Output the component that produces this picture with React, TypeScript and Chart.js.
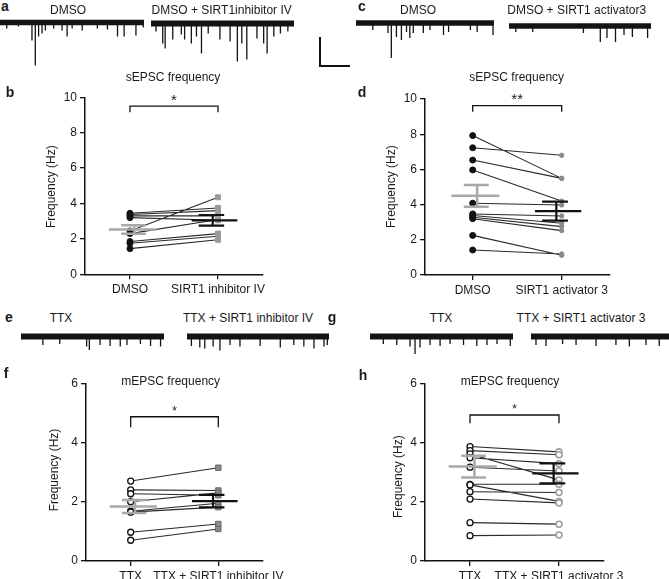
import React, { useEffect, useRef } from "react";
import { Chart, registerables } from "chart.js";

Chart.register(...registerables);

const FONT = "'Liberation Sans', Arial, Helvetica, sans-serif";

// ---------- Panel b : sEPSC, DMSO vs SIRT1 inhibitor IV ----------
const bCategories = ["DMSO", "SIRT1 inhibitor IV"];
const bDmso = [2.45, 3.45, 3.38, 3.3, 3.2, 2.3, 1.85, 1.75, 1.45];
const bInhibitor = [4.35, 3.75, 3.6, 3.3, 3.05, 3.1, 2.3, 2.15, 1.95];
const bMean = [2.53, 3.05];
const bSem = [0.24, 0.3];
const bYTicks = [0, 2, 4, 6, 8, 10];
const bBracket = [9.15, 9.5];
const bSig = "*";

// ---------- Panel d : sEPSC, DMSO vs SIRT1 activator 3 ----------
const dCategories = ["DMSO", "SIRT1 activator 3"];
const dDmso = [7.92, 7.23, 6.53, 5.97, 4.08, 3.47, 3.38, 3.28, 3.2, 2.25, 1.42];
const dActivator = [5.49, 6.8, 5.49, 4.2, 3.98, 3.35, 2.94, 2.75, 2.52, 1.12, 1.19];
const dMean = [4.5, 3.63];
const dSem = [0.62, 0.54];
const dYTicks = [0, 2, 4, 6, 8, 10];
const dBracket = [9.28, 9.62];
const dSig = "**";

// ---------- Panel f : mEPSC, TTX vs TTX + SIRT1 inhibitor IV ----------
const fCategories = ["TTX", "TTX + SIRT1 inhibitor IV"];
const fTtx = [2.7, 2.4, 2.27, 2.0, 1.68, 1.65, 0.97, 0.7];
const fInhibitor = [3.15, 2.38, 2.22, 2.3, 1.95, 1.82, 1.25, 1.08];
const fMean = [1.84, 2.02];
const fSem = [0.22, 0.21];
const fYTicks = [0, 2, 4, 6];
const fBracket = [4.52, 4.87];
const fSig = "*";

// ---------- Panel h : mEPSC, TTX vs TTX + SIRT1 activator 3 ----------
const hCategories = ["TTX", "TTX + SIRT1 activator 3"];
const hTtx = [3.88, 3.74, 3.63, 3.5, 3.18, 2.6, 2.58, 2.35, 2.1, 1.3, 0.86];
const hActivator = [3.7, 3.6, 2.75, 3.3, 3.05, 2.6, 2.02, 2.32, 1.97, 1.25, 0.88];
const hMean = [3.2, 2.97];
const hSem = [0.37, 0.34];
const hYTicks = [0, 2, 4, 6];
const hBracket = [4.67, 4.95];
const hSig = "*";

// ---------- Example traces: event times (s) and amplitudes (pA) ----------
const aDmsoT = [0.47, 1.28, 2.22, 2.45, 2.68, 2.92, 3.15, 3.73, 4.31, 4.66, 5.01, 5.71, 6.76, 7.46, 8.16, 8.62, 9.44, 9.95];
const aDmsoA = [-6, -4, -18, -43, -14, -11, -8, -6, -8, -14, -6, -8, -6, -7, -14, -14, -13, -5];
const aInhT = [0.35, 0.82, 0.99, 1.52, 2.12, 2.35, 2.82, 3.18, 3.53, 4.0, 4.82, 5.53, 6.04, 6.35, 6.7, 7.41, 7.88, 8.12, 8.59, 9.05, 9.57];
const aInhA = [-8, -20, -25, -16, -11, -16, -20, -13, -30, -10, -16, -18, -38, -20, -36, -15, -20, -30, -13, -10, -8];
const cDmsoT = [1.22, 2.32, 2.56, 2.93, 3.29, 3.66, 3.9, 4.15, 4.88, 5.36, 6.34, 6.71, 8.29, 8.78, 9.93];
const cDmsoA = [-7, -10, -35, -14, -17, -9, -15, -10, -10, -7, -12, -9, -7, -9, -12];
const cActT = [0.48, 1.67, 5.24, 6.43, 6.9, 7.5, 8.1, 8.69, 9.76];
const cActA = [-6, -6, -7, -16, -12, -16, -9, -11, -12];
const eTtxT = [1.53, 2.71, 4.59, 4.78, 5.53, 6.23, 6.94, 7.41, 8.35, 9.06, 9.76];
const eTtxA = [-8.5, -7.5, -10, -13.5, -8.5, -9.5, -10, -8.5, -7.5, -9.5, -10];
const eInhT = [0.31, 0.9, 1.25, 1.84, 2.32, 3.03, 3.73, 5.15, 6.57, 7.52, 8.23, 8.94, 9.65, 9.88];
const eInhA = [-9.5, -11, -12, -10, -14, -8.5, -10, -9.5, -11, -8.5, -10, -12, -10, -8.5];
const gTtxT = [0.93, 1.87, 2.8, 3.15, 3.5, 4.2, 4.9, 5.6, 6.54, 7.47, 8.18, 8.88, 9.81];
const gTtxA = [-7.5, -8.5, -10, -17.5, -11, -8.5, -9.5, -7.5, -8.5, -9.5, -8.5, -7.5, -9.5];
const gActT = [0.35, 1.05, 2.21, 3.15, 4.55, 5.94, 6.88, 8.04, 8.97];
const gActA = [-8.5, -9.5, -7.5, -8.5, -9.5, -8.5, -10, -8.5, -9.5];

type Pt = { x: number; y: number | null };

function pairLines(a: number[], b: number[]): Pt[] {
  const out: Pt[] = [];
  a.forEach((v, i) => {
    out.push({ x: 0, y: v }, { x: 1, y: b[i] }, { x: 1, y: null });
  });
  return out;
}

type BarStyle = { mean: [number, number]; cap: [number, number]; v: number };

function errorBar(c: number, m: number, s: number, st: BarStyle): Pt[] {
  const top = m + s;
  const bot = m - s;
  return [
    { x: c + st.mean[0], y: m }, { x: c + st.mean[1], y: m }, { x: c, y: null },
    { x: c + st.v, y: bot }, { x: c + st.v, y: top }, { x: c, y: null },
    { x: c + st.cap[0], y: top }, { x: c + st.cap[1], y: top }, { x: c, y: null },
    { x: c + st.cap[0], y: bot }, { x: c + st.cap[1], y: bot },
  ];
}

function bracketPts(level: number[]): Pt[] {
  return [
    { x: 0, y: level[0] }, { x: 0, y: level[1] },
    { x: 1, y: level[1] }, { x: 1, y: level[0] },
  ];
}

const textPlugin = {
  id: "panelText",
  afterDatasetsDraw(chart: any, _args: any, opts: any) {
    const ctx = chart.ctx as CanvasRenderingContext2D;
    (opts.items || []).forEach((t: any) => {
      ctx.save();
      ctx.font = `${t.size}px ${FONT}`;
      ctx.fillStyle = "#1a1a1a";
      ctx.textAlign = "center";
      ctx.textBaseline = "middle";
      ctx.translate(t.x, t.y);
      if (t.rot) ctx.rotate(t.rot);
      ctx.fillText(t.text, 0, 0);
      ctx.restore();
    });
    if (opts.star) {
      const xs = chart.scales.x;
      const ys = chart.scales.y;
      const cx = (xs.getPixelForValue(0) + xs.getPixelForValue(1)) / 2;
      const by = ys.getPixelForValue(opts.star.level);
      ctx.save();
      ctx.font = `${opts.star.size}px ${FONT}`;
      ctx.fillStyle = "#1a1a1a";
      ctx.textAlign = "center";
      ctx.textBaseline = "alphabetic";
      ctx.fillText(opts.star.text, cx, by - 1.5);
      ctx.restore();
    }
  },
};

type PointStyle = {
  style: string;
  radius: number;
  bg: string;
  border: string;
  bw: number;
};

type PanelDef = {
  box: { left: number; top: number; width: number; height: number };
  area: { left: number; right: number; top: number; bottom: number };
  xRange: [number, number];
  yMax: number;
  categories: string[];
  a: number[];
  b: number[];
  mean: number[];
  sem: number[];
  yTicks: number[];
  bracket: number[];
  sig: string;
  starSize: number;
  title: string;
  titlePos: [number, number];
  yTitlePos: [number, number];
  leftPt: PointStyle;
  rightPt: PointStyle;
  leftBar: BarStyle;
  rightBar: BarStyle;
};

function PairedPanel({ p }: { p: PanelDef }) {
  const ref = useRef<HTMLCanvasElement>(null);
  useEffect(() => {
    const { box, area } = p;
    const padTop = area.top - box.top;
    const padRight = box.left + box.width - area.right;
    const yW = area.left - box.left;
    const xH = box.top + box.height - area.bottom;
    const ptDs = (vals: number[], x: number, st: PointStyle, order: number) => ({
      data: vals.map((v) => ({ x, y: v })),
      pointStyle: st.style,
      pointRadius: st.radius,
      pointBackgroundColor: st.bg,
      pointBorderColor: st.border,
      pointBorderWidth: st.bw,
      showLine: false,
      order,
    });
    const lineDs = (data: Pt[], color: string, width: number, order: number) => ({
      data,
      showLine: true,
      spanGaps: false,
      borderColor: color,
      borderWidth: width,
      pointRadius: 0,
      order,
    });
    const tickFont = { family: FONT, size: 12 };
    const chart = new Chart(ref.current!, {
      type: "scatter",
      data: {
        datasets: [
          lineDs(bracketPts(p.bracket), "#111", 1.3, 6),
          lineDs(pairLines(p.a, p.b), "#2a2a2a", 1.1, 5),
          ptDs(p.b, 1, p.rightPt, 4),
          ptDs(p.a, 0, p.leftPt, 3),
          lineDs(errorBar(0, p.mean[0], p.sem[0], p.leftBar), "#a9a9a9", 2.5, 2),
          lineDs(errorBar(1, p.mean[1], p.sem[1], p.rightBar), "#111", 2.2, 1),
        ] as any,
      },
      options: {
        animation: false,
        responsive: false,
        maintainAspectRatio: false,
        layout: { padding: { left: 0, right: padRight, top: padTop, bottom: 0 } },
        plugins: {
          legend: { display: false },
          tooltip: { enabled: false },
          panelText: {
            items: [
              { text: p.title, x: p.titlePos[0] - box.left, y: p.titlePos[1] - box.top, size: 12 },
              {
                text: "Frequency (Hz)",
                x: p.yTitlePos[0] - box.left,
                y: p.yTitlePos[1] - box.top,
                size: 12,
                rot: -Math.PI / 2,
              },
            ],
            star: { text: p.sig, level: p.bracket[1], size: p.starSize },
          },
        } as any,
        scales: {
          x: {
            type: "linear",
            min: p.xRange[0],
            max: p.xRange[1],
            afterBuildTicks: (s: any) => {
              s.ticks = [{ value: 0 }, { value: 1 }];
            },
            afterFit: (s: any) => {
              s.height = xH;
            },
            ticks: {
              callback: (v: any) => p.categories[v],
              font: tickFont,
              color: "#1a1a1a",
              padding: 3,
              maxRotation: 0,
              autoSkip: false,
            },
            grid: {
              display: true,
              drawOnChartArea: false,
              drawTicks: true,
              tickLength: 5,
              color: "#111",
              lineWidth: 1.3,
            },
            border: { display: true, color: "#111", width: 1.5 },
          },
          y: {
            type: "linear",
            min: 0,
            max: p.yMax,
            afterBuildTicks: (s: any) => {
              s.ticks = p.yTicks.map((v) => ({ value: v }));
            },
            afterFit: (s: any) => {
              s.width = yW;
            },
            ticks: { font: tickFont, color: "#1a1a1a", padding: 3, autoSkip: false },
            grid: {
              display: true,
              drawOnChartArea: false,
              drawTicks: true,
              tickLength: 5,
              color: "#111",
              lineWidth: 1.3,
            },
            border: { display: true, color: "#111", width: 1.5 },
          },
        },
      } as any,
      plugins: [textPlugin as any],
    });
    return () => chart.destroy();
  }, []);
  const { box } = p;
  return (
    <canvas
      ref={ref}
      width={box.width}
      height={box.height}
      style={{ position: "absolute", left: box.left, top: box.top, width: box.width, height: box.height }}
    />
  );
}

type TraceDef = {
  box: { left: number; top: number; width: number; height: number };
  t: number[];
  amp: number[];
  baseY: number; // px from canvas top where amplitude 0 sits
  band: number;
};

function Trace({ d }: { d: TraceDef }) {
  const ref = useRef<HTMLCanvasElement>(null);
  useEffect(() => {
    const spikes: Pt[] = [];
    d.t.forEach((t, i) => {
      spikes.push({ x: t, y: 0 }, { x: t, y: d.amp[i] }, { x: t, y: null });
    });
    const chart = new Chart(ref.current!, {
      type: "scatter",
      data: {
        datasets: [
          {
            data: [{ x: 0, y: 0 }, { x: 10, y: 0 }],
            showLine: true,
            borderColor: "#141414",
            borderWidth: d.band,
            pointRadius: 0,
          },
          {
            data: spikes,
            showLine: true,
            spanGaps: false,
            borderColor: "#141414",
            borderWidth: 1.3,
            pointRadius: 0,
          },
        ] as any,
      },
      options: {
        animation: false,
        responsive: false,
        maintainAspectRatio: false,
        layout: { padding: 0 },
        plugins: { legend: { display: false }, tooltip: { enabled: false } },
        scales: {
          x: { type: "linear", min: 0, max: 10, display: false },
          y: { type: "linear", min: d.baseY - d.box.height, max: d.baseY, display: false },
        },
      } as any,
    });
    return () => chart.destroy();
  }, []);
  const { box } = d;
  return (
    <canvas
      ref={ref}
      width={box.width}
      height={box.height}
      style={{ position: "absolute", left: box.left, top: box.top, width: box.width, height: box.height }}
    />
  );
}

function Txt({ x, y, text, size = 12, bold = false }: { x: number; y: number; text: string; size?: number; bold?: boolean }) {
  return (
    <div
      style={{
        position: "absolute",
        left: x,
        top: y,
        transform: "translate(-50%, -50%)",
        whiteSpace: "nowrap",
        fontFamily: FONT,
        fontSize: size,
        fontWeight: bold ? 700 : 400,
        color: "#1a1a1a",
        lineHeight: 1,
      }}
    >
      {text}
    </div>
  );
}

const grayBarL: BarStyle = { mean: [-0.24, 0.3], cap: [-0.1, 0.18], v: 0.05 };
const blackBarR: BarStyle = { mean: [-0.3, 0.22], cap: [-0.22, 0.07], v: -0.06 };

const filledBlack: PointStyle = { style: "circle", radius: 3, bg: "#111", border: "#111", bw: 1 };
const openBlack: PointStyle = { style: "circle", radius: 3, bg: "#fff", border: "#111", bw: 1.3 };

const panels: PanelDef[] = [
  {
    box: { left: 0, top: 62, width: 335, height: 240 },
    area: { left: 85, right: 263, top: 97.3, bottom: 274.3 },
    xRange: [-0.511, 1.511],
    yMax: 10,
    categories: bCategories,
    a: bDmso,
    b: bInhibitor,
    mean: bMean,
    sem: bSem,
    yTicks: bYTicks,
    bracket: bBracket,
    sig: bSig,
    starSize: 15,
    title: "sEPSC frequency",
    titlePos: [173, 78],
    yTitlePos: [51.7, 186.7],
    leftPt: filledBlack,
    rightPt: { style: "rect", radius: 3.5, bg: "#9a9a9a", border: "#9a9a9a", bw: 1 },
    leftBar: grayBarL,
    rightBar: blackBarR,
  },
  {
    box: { left: 335, top: 62, width: 334, height: 240 },
    area: { left: 425, right: 610, top: 99, bottom: 275 },
    xRange: [-0.536, 1.543],
    yMax: 10,
    categories: dCategories,
    a: dDmso,
    b: dActivator,
    mean: dMean,
    sem: dSem,
    yTicks: dYTicks,
    bracket: dBracket,
    sig: dSig,
    starSize: 15,
    title: "sEPSC frequency",
    titlePos: [516.7, 78],
    yTitlePos: [391.7, 186.7],
    leftPt: filledBlack,
    rightPt: { style: "circle", radius: 2.2, bg: "#8a8a8a", border: "#8a8a8a", bw: 1 },
    leftBar: grayBarL,
    rightBar: blackBarR,
  },
  {
    box: { left: 0, top: 355, width: 335, height: 224 },
    area: { left: 86, right: 263, top: 383.3, bottom: 561 },
    xRange: [-0.51, 1.51],
    yMax: 6,
    categories: fCategories,
    a: fTtx,
    b: fInhibitor,
    mean: fMean,
    sem: fSem,
    yTicks: fYTicks,
    bracket: fBracket,
    sig: fSig,
    starSize: 12,
    title: "mEPSC frequency",
    titlePos: [170.7, 381.7],
    yTitlePos: [55, 470],
    leftPt: openBlack,
    rightPt: { style: "rect", radius: 3.8, bg: "#8c8c8c", border: "#666", bw: 1 },
    leftBar: grayBarL,
    rightBar: blackBarR,
  },
  {
    box: { left: 335, top: 355, width: 334, height: 224 },
    area: { left: 425, right: 604, top: 384, bottom: 561 },
    xRange: [-0.506, 1.506],
    yMax: 6,
    categories: hCategories,
    a: hTtx,
    b: hActivator,
    mean: hMean,
    sem: hSem,
    yTicks: hYTicks,
    bracket: hBracket,
    sig: hSig,
    starSize: 12,
    title: "mEPSC frequency",
    titlePos: [510, 381.7],
    yTitlePos: [398.3, 476.7],
    leftPt: openBlack,
    rightPt: { style: "circle", radius: 3, bg: "#fff", border: "#9a9a9a", bw: 1.5 },
    leftBar: grayBarL,
    rightBar: blackBarR,
  },
];

const traces: TraceDef[] = [
  { box: { left: 0, top: 14, width: 144, height: 54 }, t: aDmsoT, amp: aDmsoA, baseY: 8.5, band: 5.5 },
  { box: { left: 151, top: 14, width: 143, height: 54 }, t: aInhT, amp: aInhA, baseY: 9.5, band: 6 },
  { box: { left: 356, top: 14, width: 138, height: 50 }, t: cDmsoT, amp: cDmsoA, baseY: 9, band: 5.5 },
  { box: { left: 509, top: 14, width: 142, height: 50 }, t: cActT, amp: cActA, baseY: 12, band: 5.5 },
  { box: { left: 21, top: 326, width: 143, height: 28 }, t: eTtxT, amp: eTtxA, baseY: 10.5, band: 6 },
  { box: { left: 187, top: 326, width: 142, height: 28 }, t: eInhT, amp: eInhA, baseY: 10.5, band: 6 },
  { box: { left: 370, top: 326, width: 143, height: 30 }, t: gTtxT, amp: gTtxA, baseY: 10.5, band: 6 },
  { box: { left: 531, top: 326, width: 143, height: 28 }, t: gActT, amp: gActA, baseY: 10.5, band: 6 },
];

export default function App() {
  return (
    <div
      style={{
        position: "absolute",
        left: 0,
        top: 0,
        width: 669,
        height: 579,
        overflow: "hidden",
        background: "#fff",
      }}
    >
      {traces.map((d, i) => (
        <Trace key={"t" + i} d={d} />
      ))}
      {panels.map((p, i) => (
        <PairedPanel key={"p" + i} p={p} />
      ))}
      <div style={{ position: "absolute", left: 319, top: 37, width: 2, height: 30, background: "#111" }} />
      <div style={{ position: "absolute", left: 319, top: 65, width: 31, height: 2, background: "#111" }} />
      <Txt x={5} y={6} text="a" size={14} bold />
      <Txt x={68} y={10} text="DMSO" />
      <Txt x={221.7} y={10} text="DMSO + SIRT1inhibitor IV" />
      <Txt x={362} y={6} text="c" size={14} bold />
      <Txt x={418} y={10} text="DMSO" />
      <Txt x={576.7} y={10} text="DMSO + SIRT1 activator3" />
      <Txt x={10} y={91.7} text="b" size={14} bold />
      <Txt x={362} y={91.7} text="d" size={14} bold />
      <Txt x={9} y={317} text="e" size={14} bold />
      <Txt x={61} y={318} text="TTX" />
      <Txt x={248} y={318} text="TTX + SIRT1 inhibitor IV" />
      <Txt x={332} y={317} text="g" size={14} bold />
      <Txt x={441} y={318} text="TTX" />
      <Txt x={581} y={318} text="TTX + SIRT1 activator 3" />
      <Txt x={6} y={373} text="f" size={14} bold />
      <Txt x={363} y={375} text="h" size={14} bold />
    </div>
  );
}
